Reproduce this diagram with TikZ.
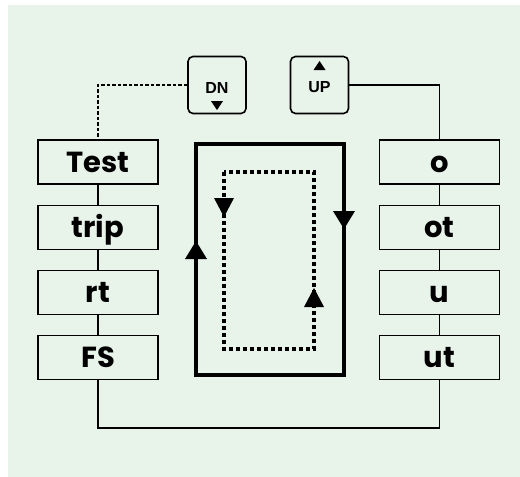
\documentclass[tikz,border=0pt]{standalone}
\usepackage{fontspec}
\setmainfont{Poppins}
\newfontfamily\keyfont{Liberation Sans}
\definecolor{bgcol}{HTML}{E8F3EA}
\tikzset{
  stagebox/.style={draw, line width=1.6pt, minimum width=120pt, minimum height=44pt, inner sep=0pt,
    text height=22pt, text depth=2pt, font=\bfseries\fontsize{29}{29}\selectfont},
  keybox/.style={draw, line width=1.6pt, rounded corners=5pt, minimum width=58pt, minimum height=57pt, inner sep=0pt},
  conn/.style={line width=1.5pt},
  dashconn/.style={line width=1.6pt, dash pattern=on 3.5pt off 2pt},
  loopline/.style={line width=3.5pt},
  dotline/.style={line width=4pt, dash pattern=on 4pt off 3pt},
  keytext/.style={font=\keyfont\bfseries\fontsize{16}{16}\selectfont, inner sep=0pt}
}
\begin{document}
\begin{tikzpicture}[x=1pt,y=-1pt]
\useasboundingbox (0,0) rectangle (520,477);
\fill[bgcol] (8,5) rectangle (520,477);
% left column
\node[stagebox] (test) at (98,162) {Test};
\node[stagebox] (trip) at (98,227.5) {trip};
\node[stagebox] (rt) at (98,292.5) {rt};
\node[stagebox] (fs) at (98,357.5) {FS};
% right column
\node[stagebox] (o) at (439.5,162) {o};
\node[stagebox] (ot) at (439.5,227.5) {ot};
\node[stagebox] (u) at (439.5,292.5) {u};
\node[stagebox] (ut) at (439.5,357.5) {ut};
% keys
\node[keybox] (dn) at (217,85) {};
\node[keytext] (dnt) at (217,87.5) {DN};
\fill (211,101) -- (223,101) -- (217,110) -- cycle;
\node[keybox] (up) at (319.5,85) {};
\node[keytext] (upt) at (319.5,87.5) {UP};
\fill (313.5,70) -- (325.5,70) -- (319.5,61) -- cycle;
% connectors
\draw[conn] (test) -- (trip);
\draw[conn] (trip) -- (rt);
\draw[conn] (rt) -- (fs);
\draw[conn] (o) -- (ot);
\draw[conn] (ot) -- (u);
\draw[conn] (u) -- (ut);
\coordinate (bot) at (0,428);
\draw[conn] (fs.south) -- (fs.south |- bot) -| (ut.south);
\draw[conn] (up.east) -| (o.north);
\draw[dashconn] (dn.west) -| (test.north);
% centre loops
\draw[loopline] (196,144) rectangle (344,375);
\fill (185,259) -- (207,259) -- (196,241) -- cycle;
\fill (333,211) -- (355,211) -- (344,229) -- cycle;
\draw[dotline] (224,172) rectangle (314,349);
\fill (214,198) -- (234,198) -- (224,217) -- cycle;
\fill (304,307) -- (324,307) -- (314,288) -- cycle;
\end{tikzpicture}
\end{document}
